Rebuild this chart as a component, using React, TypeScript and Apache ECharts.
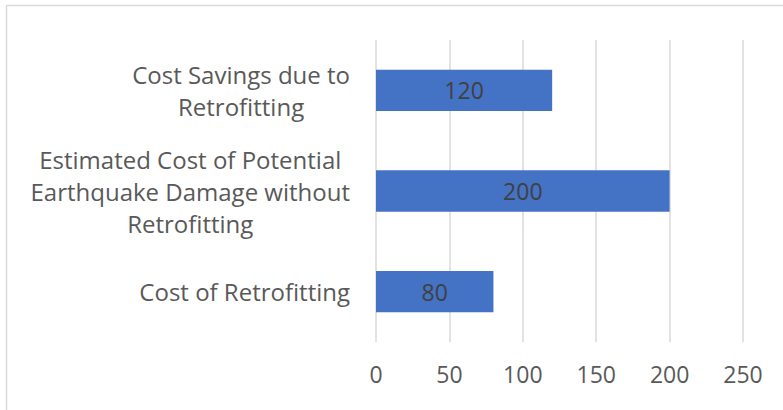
import React, { useEffect, useRef } from "react";
import * as echarts from "echarts";

const categories = [
  "Cost Savings due to\nRetrofitting",
  "Estimated Cost of Potential\nEarthquake Damage without\nRetrofitting",
  "Cost of Retrofitting",
];
const values = [120, 200, 80];
const xTicks = { min: 0, max: 250, interval: 50 };

export default function App() {
  const ref = useRef<HTMLDivElement>(null);
  useEffect(() => {
    if (!ref.current) return;
    const chart = echarts.init(ref.current, null, { renderer: "svg" });
    const font = "'Open Sans', sans-serif";
    chart.setOption({
      animation: false,
      backgroundColor: "#ffffff",
      graphic: [
        {
          type: "rect",
          shape: { x: 6.5, y: 5.5, width: 800, height: 420 },
          style: { fill: "none", stroke: "#d9d9d9", lineWidth: 1.5 },
          silent: true,
        },
      ],
      grid: { left: 376, right: 40, top: 40, bottom: 68 },
      xAxis: {
        type: "value",
        min: xTicks.min,
        max: xTicks.max,
        interval: xTicks.interval,
        axisLine: { show: false },
        axisTick: { show: false },
        axisLabel: { color: "#595959", fontSize: 23, fontFamily: font, margin: 20 },
        splitLine: { show: true, lineStyle: { color: "#d9d9d9", width: 1.5 } },
      },
      yAxis: {
        type: "category",
        data: categories,
        inverse: true,
        axisLine: { show: false },
        axisTick: { show: false },
        axisLabel: {
          margin: 26,
          align: "right",
          formatter: (v: string) =>
            v
              .split("\n")
              .map((l) => "{c|" + l + "}")
              .join("\n"),
          rich: {
            c: {
              align: "center",
              color: "#595959",
              fontSize: 24,
              fontFamily: font,
              lineHeight: 32,
            },
          },
        },
      },
      series: [
        {
          type: "bar",
          data: values,
          barCategoryGap: "59%",
          itemStyle: { color: "#4472C4" },
          label: {
            show: true,
            position: "inside",
            color: "#404040",
            fontSize: 23,
            fontFamily: font,
          },
        },
      ],
    });
    return () => chart.dispose();
  }, []);
  return (
    <div
      ref={ref}
      style={{ position: "fixed", left: 0, top: 0, width: 783, height: 410 }}
    />
  );
}
